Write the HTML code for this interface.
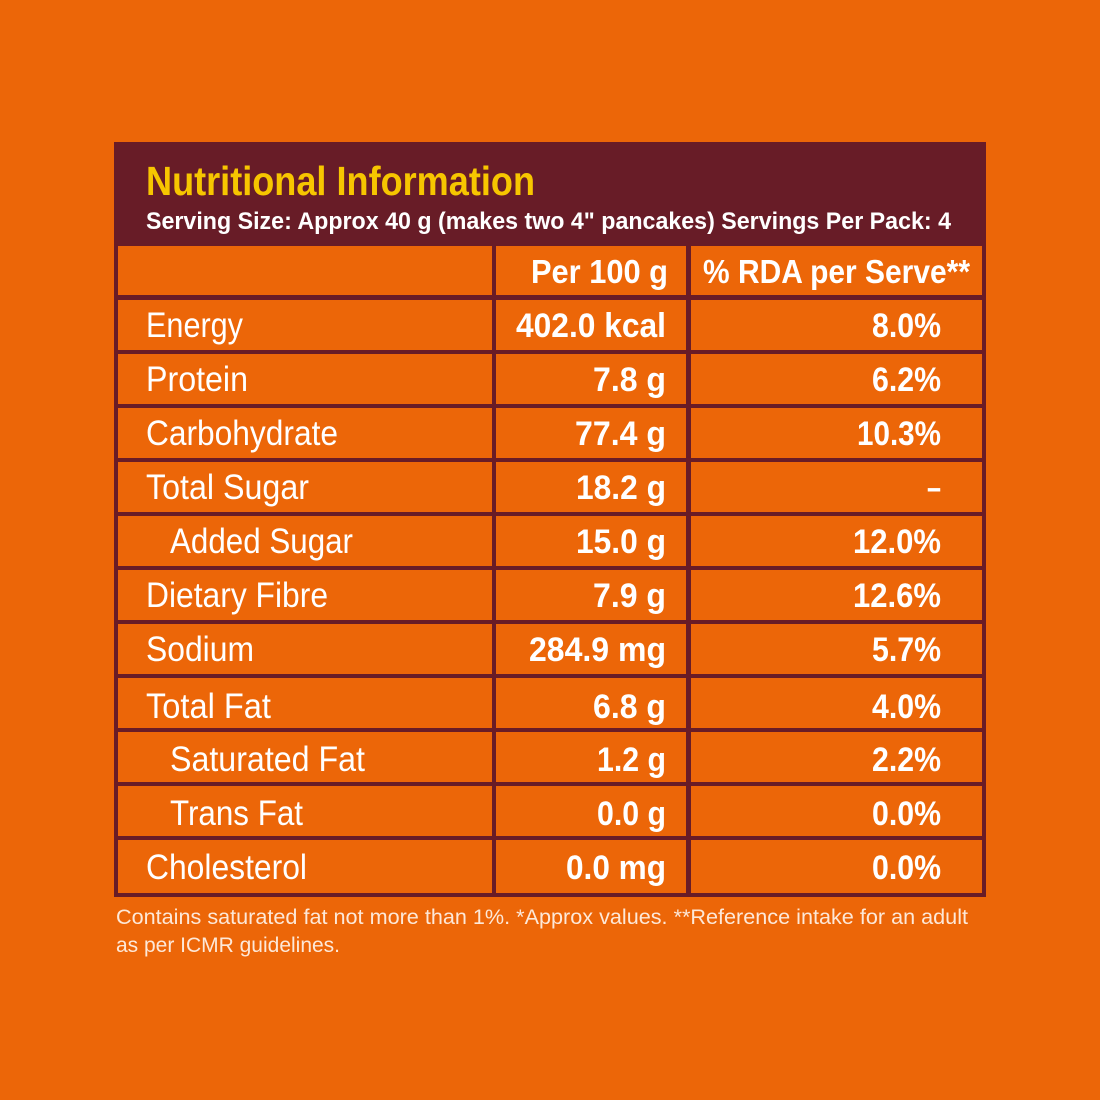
<!DOCTYPE html>
<html><head><style>html,body{margin:0;padding:0;background:#ec6608;}svg{display:block}</style></head>
<body>
<svg width="1100" height="1100" viewBox="0 0 1100 1100" xmlns="http://www.w3.org/2000/svg" font-family="Liberation Sans, sans-serif">
<rect width="1100" height="1100" fill="#ec6608"/>
<rect x="114" y="142" width="872" height="755" fill="#681c27"/>
<g fill="#ec6608">
<rect x="118" y="246" width="374" height="49"/><rect x="496" y="246" width="190" height="49"/><rect x="691" y="246" width="291" height="49"/>
</g>
<g fill="#ec6608">
<rect x="118" y="300" width="374" height="50"/><rect x="496" y="300" width="190" height="50"/><rect x="691" y="300" width="291" height="50"/>
<rect x="118" y="354" width="374" height="50"/><rect x="496" y="354" width="190" height="50"/><rect x="691" y="354" width="291" height="50"/>
<rect x="118" y="408" width="374" height="50"/><rect x="496" y="408" width="190" height="50"/><rect x="691" y="408" width="291" height="50"/>
<rect x="118" y="462" width="374" height="50"/><rect x="496" y="462" width="190" height="50"/><rect x="691" y="462" width="291" height="50"/>
<rect x="118" y="516" width="374" height="50"/><rect x="496" y="516" width="190" height="50"/><rect x="691" y="516" width="291" height="50"/>
<rect x="118" y="570" width="374" height="50"/><rect x="496" y="570" width="190" height="50"/><rect x="691" y="570" width="291" height="50"/>
<rect x="118" y="624" width="374" height="50"/><rect x="496" y="624" width="190" height="50"/><rect x="691" y="624" width="291" height="50"/>
<rect x="118" y="678" width="374" height="50"/><rect x="496" y="678" width="190" height="50"/><rect x="691" y="678" width="291" height="50"/>
<rect x="118" y="732" width="374" height="50"/><rect x="496" y="732" width="190" height="50"/><rect x="691" y="732" width="291" height="50"/>
<rect x="118" y="786" width="374" height="50"/><rect x="496" y="786" width="190" height="50"/><rect x="691" y="786" width="291" height="50"/>
<rect x="118" y="840" width="374" height="53"/><rect x="496" y="840" width="190" height="53"/><rect x="691" y="840" width="291" height="53"/>
</g>
<text x="146" y="195" fill="#f7c600" font-size="41" font-weight="bold" textLength="389" lengthAdjust="spacingAndGlyphs">Nutritional Information</text>
<text x="146" y="229" fill="#fff" font-size="24" font-weight="bold" textLength="805" lengthAdjust="spacingAndGlyphs">Serving Size: Approx 40 g (makes two 4" pancakes) Servings Per Pack: 4</text>
<g fill="#fff" font-weight="bold" font-size="33">
<text x="531" y="283" textLength="137" lengthAdjust="spacingAndGlyphs">Per 100 g</text>
<text x="703" y="283" textLength="267" lengthAdjust="spacingAndGlyphs">% RDA per Serve**</text>
</g>
<g fill="#fff" font-size="35">
<text x="146" y="337" textLength="97" lengthAdjust="spacingAndGlyphs">Energy</text>
<text x="146" y="391" textLength="102" lengthAdjust="spacingAndGlyphs">Protein</text>
<text x="146" y="445" textLength="192" lengthAdjust="spacingAndGlyphs">Carbohydrate</text>
<text x="146" y="499" textLength="163" lengthAdjust="spacingAndGlyphs">Total Sugar</text>
<text x="170" y="553" textLength="183" lengthAdjust="spacingAndGlyphs">Added Sugar</text>
<text x="146" y="607" textLength="182" lengthAdjust="spacingAndGlyphs">Dietary Fibre</text>
<text x="146" y="661" textLength="108" lengthAdjust="spacingAndGlyphs">Sodium</text>
<text x="146" y="718" textLength="125" lengthAdjust="spacingAndGlyphs">Total Fat</text>
<text x="170" y="771" textLength="195" lengthAdjust="spacingAndGlyphs">Saturated Fat</text>
<text x="170" y="825" textLength="133" lengthAdjust="spacingAndGlyphs">Trans Fat</text>
<text x="146" y="879" textLength="161" lengthAdjust="spacingAndGlyphs">Cholesterol</text>
</g>
<g fill="#fff" font-size="34" font-weight="bold">
<text x="516" y="337" textLength="150" lengthAdjust="spacingAndGlyphs">402.0 kcal</text>
<text x="593" y="391" textLength="73" lengthAdjust="spacingAndGlyphs">7.8 g</text>
<text x="575" y="445" textLength="91" lengthAdjust="spacingAndGlyphs">77.4 g</text>
<text x="576" y="499" textLength="90" lengthAdjust="spacingAndGlyphs">18.2 g</text>
<text x="576" y="553" textLength="90" lengthAdjust="spacingAndGlyphs">15.0 g</text>
<text x="593" y="607" textLength="73" lengthAdjust="spacingAndGlyphs">7.9 g</text>
<text x="529" y="661" textLength="137" lengthAdjust="spacingAndGlyphs">284.9 mg</text>
<text x="593" y="718" textLength="73" lengthAdjust="spacingAndGlyphs">6.8 g</text>
<text x="597" y="771" textLength="69" lengthAdjust="spacingAndGlyphs">1.2 g</text>
<text x="597" y="825" textLength="69" lengthAdjust="spacingAndGlyphs">0.0 g</text>
<text x="566" y="879" textLength="100" lengthAdjust="spacingAndGlyphs">0.0 mg</text>
<text x="872" y="337" textLength="69" lengthAdjust="spacingAndGlyphs">8.0%</text>
<text x="872" y="391" textLength="69" lengthAdjust="spacingAndGlyphs">6.2%</text>
<text x="857" y="445" textLength="84" lengthAdjust="spacingAndGlyphs">10.3%</text>
<text x="927" y="499" textLength="14" lengthAdjust="spacingAndGlyphs">–</text>
<text x="853" y="553" textLength="88" lengthAdjust="spacingAndGlyphs">12.0%</text>
<text x="853" y="607" textLength="88" lengthAdjust="spacingAndGlyphs">12.6%</text>
<text x="872" y="661" textLength="69" lengthAdjust="spacingAndGlyphs">5.7%</text>
<text x="872" y="718" textLength="69" lengthAdjust="spacingAndGlyphs">4.0%</text>
<text x="872" y="771" textLength="69" lengthAdjust="spacingAndGlyphs">2.2%</text>
<text x="872" y="825" textLength="69" lengthAdjust="spacingAndGlyphs">0.0%</text>
<text x="872" y="879" textLength="69" lengthAdjust="spacingAndGlyphs">0.0%</text>
</g>
<g fill="#fde8d8" font-size="21">
<text x="116" y="924" textLength="852" lengthAdjust="spacingAndGlyphs">Contains saturated fat not more than 1%. *Approx values. **Reference intake for an adult</text>
<text x="116" y="952" textLength="224" lengthAdjust="spacingAndGlyphs">as per ICMR guidelines.</text>
</g>
</svg>
</body></html>
